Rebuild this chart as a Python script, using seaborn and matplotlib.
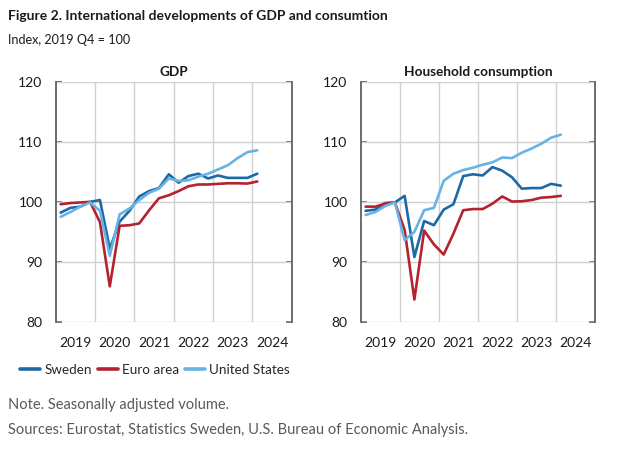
import numpy as np
import pandas as pd
import matplotlib
matplotlib.use("Agg")
import matplotlib.pyplot as plt
import seaborn as sns
from matplotlib.lines import Line2D

quarters = ["2019Q1", "2019Q2", "2019Q3", "2019Q4",
            "2020Q1", "2020Q2", "2020Q3", "2020Q4",
            "2021Q1", "2021Q2", "2021Q3", "2021Q4",
            "2022Q1", "2022Q2", "2022Q3", "2022Q4",
            "2023Q1", "2023Q2", "2023Q3", "2023Q4",
            "2024Q1"]

gdp_sweden = [98.2, 99.0, 99.2, 100.0, 100.3, 92.2, 96.7, 98.5, 100.9, 101.8, 102.3,
              104.6, 103.2, 104.3, 104.7, 103.9, 104.4, 104.0, 104.0, 104.0, 104.7]
gdp_euro = [99.6, 99.8, 99.9, 100.0, 96.6, 85.9, 96.0, 96.1, 96.4, 98.6, 100.6,
            101.1, 101.8, 102.6, 102.9, 102.9, 103.0, 103.1, 103.1, 103.05, 103.4]
gdp_us = [97.5, 98.3, 99.2, 99.9, 98.5, 91.0, 97.9, 98.9, 100.3, 101.5, 102.2,
          103.9, 103.5, 103.6, 104.2, 104.7, 105.4, 106.1, 107.3, 108.3, 108.6]

cons_sweden = [98.5, 98.7, 99.8, 99.9, 101.0, 90.8, 96.8, 96.1, 98.7, 99.6, 104.3,
               104.6, 104.4, 105.8, 105.2, 104.1, 102.2, 102.3, 102.3, 103.0, 102.7]
cons_euro = [99.2, 99.2, 99.7, 99.9, 95.3, 83.7, 95.2, 92.9, 91.2, 94.7, 98.6,
             98.8, 98.8, 99.7, 100.9, 100.05, 100.1, 100.3, 100.7, 100.8, 101.0]
cons_us = [97.8, 98.3, 99.3, 99.9, 93.6, 95.0, 98.6, 99.0, 103.5, 104.7, 105.3,
           105.7, 106.2, 106.6, 107.4, 107.3, 108.2, 108.9, 109.7, 110.7, 111.2]

series_names = ["Sweden", "Euro area", "United States"]
colors = ["#1b6aa5", "#b5222f", "#68b3e5"]
year_labels = ["2019", "2020", "2021", "2022", "2023", "2024"]
y_ticks = [80, 90, 100, 110, 120]

title = "Figure 2. International developments of GDP and consumtion"
subtitle = "Index, 2019 Q4 = 100"
panel_titles = ["GDP", "Household consumption"]
note = "Note. Seasonally adjusted volume."
sources = "Sources: Eurostat, Statistics Sweden, U.S. Bureau of Economic Analysis."


def qpos(q):
    return int(q[:4]) + (int(q[-1]) - 1) * 0.25 + 0.125


def long_df(sw, eu, us):
    rows = []
    for name, vals in zip(series_names, [sw, eu, us]):
        for q, v in zip(quarters, vals):
            rows.append({"t": qpos(q), "value": v, "series": name})
    return pd.DataFrame(rows)


sns.set_theme(style="white")
plt.rcParams["font.family"] = ["Lato", "DejaVu Sans"]

fig = plt.figure(figsize=(6.2, 4.5), dpi=100)
W, H = 620, 450


def add_axes(x0, x1, y0, y1):
    return fig.add_axes([x0 / W, 1 - y1 / H, (x1 - x0) / W, (y1 - y0) / H])


ax1 = add_axes(55.7, 291.7, 82, 321.7)
ax2 = add_axes(360.7, 595.0, 82, 321.7)

grid_c = "#d0d0d0"
spine_c = "#606060"
text_c = "#1a1a1a"

for ax, data, ptitle in [(ax1, long_df(gdp_sweden, gdp_euro, gdp_us), panel_titles[0]),
                         (ax2, long_df(cons_sweden, cons_euro, cons_us), panel_titles[1])]:
    sns.lineplot(data=data, x="t", y="value", hue="series", hue_order=series_names,
                 palette=colors, linewidth=1.9, legend=False, ax=ax, zorder=3)
    ax.set_xlim(2019, 2025)
    ax.set_ylim(80, 120)
    ax.set_yticks(y_ticks)
    ax.set_yticklabels([str(v) for v in y_ticks])
    ax.set_xticks([int(y) + 0.5 for y in year_labels])
    ax.set_xticklabels(year_labels)
    ax.grid(False)
    for yv in y_ticks:
        ax.axhline(yv, color=grid_c, linewidth=1.0, zorder=1)
    for xv in [int(y) for y in year_labels[1:]]:
        ax.axvline(xv, color=grid_c, linewidth=1.0, zorder=1)
    ax.set_xlabel("")
    ax.set_ylabel("")
    for s in ["top", "bottom"]:
        ax.spines[s].set_visible(False)
    for s in ["left", "right"]:
        ax.spines[s].set_visible(True)
        ax.spines[s].set_color(spine_c)
        ax.spines[s].set_linewidth(1.3)
    ax.tick_params(axis="y", which="major", direction="in", length=4, width=1.2,
                   color=spine_c, left=True, right=True, labelleft=True,
                   labelright=False, pad=9.5, labelsize=10, labelcolor=text_c)
    ax.tick_params(axis="x", which="both", length=0, pad=11, labelsize=10,
                   labelcolor=text_c)
    ax.set_title(ptitle, fontsize=9.8, fontweight="bold", color=text_c, pad=4)
    ax.set_facecolor("white")

fig.text(8 / W, 1 - 16 / H, title, fontsize=10.0, fontweight="bold", color=text_c,
         va="center", ha="left")
fig.text(8 / W, 1 - 40 / H, subtitle, fontsize=9.1, color=text_c, va="center", ha="left")

handles = [Line2D([0], [0], color=c, linewidth=2.6) for c in colors]
fig.legend(handles, series_names, loc="center left", bbox_to_anchor=(20 / W, 1 - 370 / H),
           ncol=3, frameon=False, fontsize=9.7, handlelength=1.5, handletextpad=0.3,
           columnspacing=0.45, borderaxespad=0, borderpad=0)

fig.text(8 / W, 1 - 405 / H, note, fontsize=10.5, color="#595959", va="center", ha="left")
fig.text(8 / W, 1 - 430 / H, sources, fontsize=10.5, color="#595959", va="center", ha="left")

fig.savefig("out.png", dpi=100, facecolor="white")
